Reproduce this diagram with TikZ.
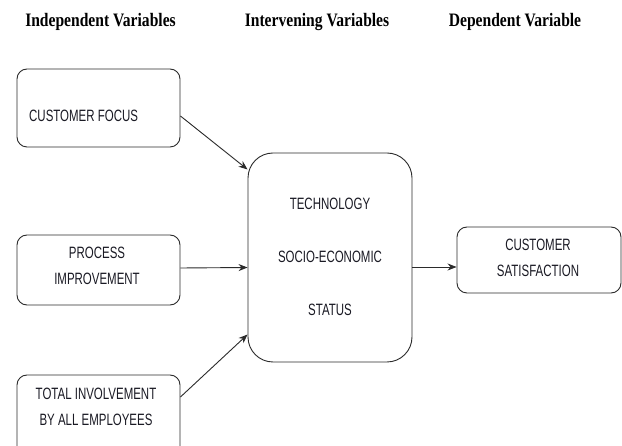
\documentclass[tikz,border=0pt]{standalone}
\usepackage{fontspec}
\setmainfont{Liberation Sans}
\newfontfamily\labelfont[FakeStretch=0.70]{Liberation Sans}
\newfontfamily\headfont[FakeStretch=0.82]{Liberation Serif}
\usetikzlibrary{arrows.meta}
\definecolor{linegray}{HTML}{2B2B2B}
\definecolor{textgray}{HTML}{1A1A24}
\begin{document}
\begin{tikzpicture}[x=1pt,y=-1pt,
  sidebox/.style={draw=linegray, line width=0.9pt, rounded corners=10pt,
    minimum width=163pt, inner sep=0pt},
  midbox/.style={draw=linegray, line width=0.9pt, rounded corners=25pt,
    minimum width=164pt, minimum height=209pt, inner sep=0pt},
  lab/.style={inner sep=0pt, text=textgray, align=center,
    font=\labelfont\fontsize{16.4pt}{26pt}\selectfont},
  head/.style={inner sep=0pt, anchor=base, text=black,
    font=\headfont\bfseries\fontsize{19pt}{22pt}\selectfont},
  link/.style={draw=linegray, line width=0.9pt, -{Stealth[length=9pt,width=7pt]}}]
\useasboundingbox (0,0) rectangle (622,446);
\clip (0,0) rectangle (622,446);
\fill[white] (0,0) rectangle (622,446);

% column headings
\node[head] (h1) at (100.5,26.5) {Independent Variables};
\node[head] (h2) at (317,26.5) {Intervening Variables};
\node[head] (h3) at (515,26.5) {Dependent Variable};

% independent variables
\node[sidebox, minimum height=78pt] (b1) at (98.5,108) {};
\node[lab, anchor=west] (t1) at (29,116) {CUSTOMER FOCUS};
\node[sidebox, minimum height=70pt] (b2) at (98.5,270) {};
\node[lab] (t2) at (97,266) {PROCESS\\IMPROVEMENT};
\node[sidebox, minimum height=84pt] (b3) at (98.5,417) {};
\node[lab] (t3) at (96,406.5) {TOTAL INVOLVEMENT\\BY ALL EMPLOYEES};

% intervening variables
\node[midbox] (mid) at (330,257.5) {};
\node[lab, font=\labelfont\fontsize{16.4pt}{53pt}\selectfont] (tm) at (330,257)
  {TECHNOLOGY\\SOCIO-ECONOMIC\\STATUS};

% dependent variable
\node[sidebox, minimum width=164pt, minimum height=66pt] (r) at (539,260) {};
\node[lab] (tr) at (538,257.5) {CUSTOMER\\SATISFACTION};

% connectors
\draw[link] ([yshift=-8pt]b1.east) -- ([yshift=88pt]mid.west);
\draw[link] ([yshift=2pt]b2.east) -- ([yshift=-10pt]mid.west);
\draw[link] ([yshift=20pt]b3.east) -- ([yshift=-77pt]mid.west);
\draw[link] ([yshift=-9.5pt]mid.east) -- ([yshift=-7pt]r.west);
\end{tikzpicture}
\end{document}
